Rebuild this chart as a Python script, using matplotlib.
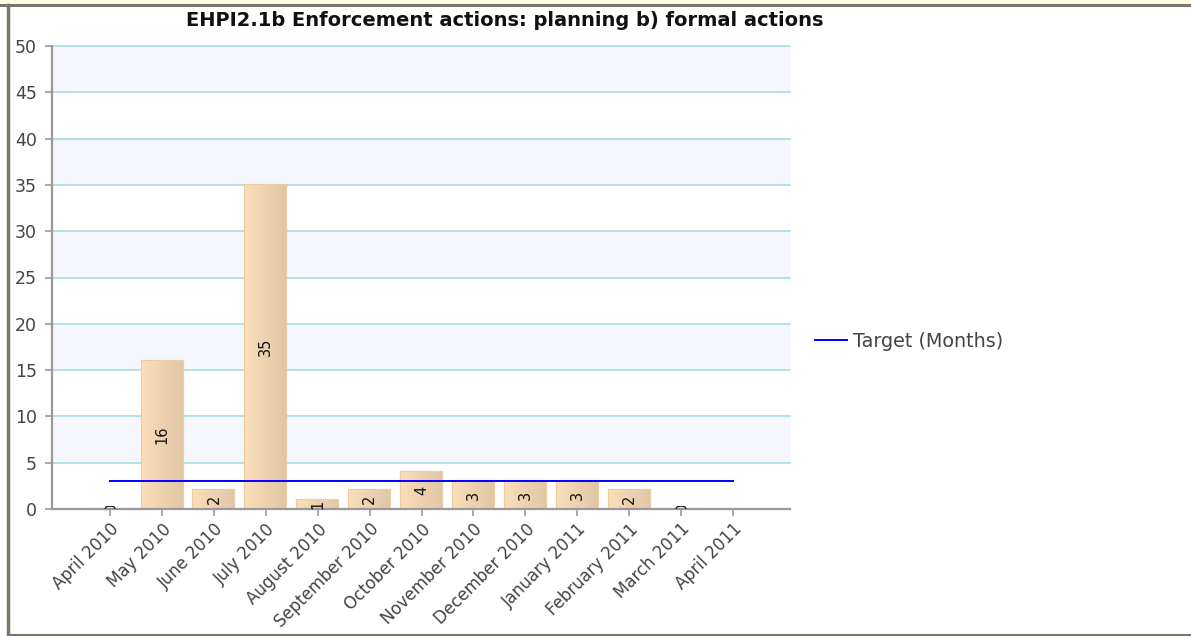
import numpy as np
import matplotlib
matplotlib.use("Agg")
import matplotlib.pyplot as plt
from matplotlib.colors import LinearSegmentedColormap
from matplotlib.patches import Rectangle, PathPatch
from matplotlib.lines import Line2D
from matplotlib.textpath import TextPath
from matplotlib.transforms import Affine2D, ScaledTranslation, Bbox, TransformedBbox

# data
months = ["April 2010", "May 2010", "June 2010", "July 2010", "August 2010",
          "September 2010", "October 2010", "November 2010", "December 2010",
          "January 2011", "February 2011", "March 2011", "April 2011"]
actions = [0, 16, 2, 35, 1, 2, 4, 3, 3, 3, 2, 0, None]
target = [3] * len(months)

title = "EHPI2.1b Enforcement actions: planning b) formal actions"
legend_label = "Target (Months)"

W, H = 1191, 636
fig = plt.figure(figsize=(W / 100, H / 100), dpi=100)
ax = fig.add_axes([52 / W, 1 - 509 / H, (790 - 52) / W, (509 - 46) / H])

x = np.arange(len(months))

# alternating bands + grid
for lo in range(5, 50, 10):
    ax.axhspan(lo, lo + 5, color="#F6F7FD", zorder=0, lw=0)
for g in range(5, 51, 5):
    ax.axhline(g, color="#A9DCE3", lw=1.2, zorder=1, clip_on=False)

ax.set_xlim(-1.12, len(months) - 1 + 1.1)
ax.set_ylim(0, 50)

grad = LinearSegmentedColormap.from_list("tan", ["#FBDEB9", "#E1C6A6"])
gimg = np.linspace(0, 1, 64).reshape(1, -1)
bw = 0.79
for xi, v in zip(x, actions):
    if v is None:
        continue
    bar = ax.bar(xi, v, width=bw, color="#F4D6B0", edgecolor="#EACCA6",
                 linewidth=1.6, zorder=2)[0]
    im = ax.imshow(gimg, cmap=grad, aspect="auto", zorder=2.1,
                   extent=[xi - bw / 2, xi + bw / 2, 0, v], interpolation="bilinear")
    im.set_clip_path(bar)
    if v >= 1:
        ax.text(xi, v / 2, str(v), rotation=90, ha="center", va="center",
                fontsize=10.5, color="#111111", zorder=4)
    else:
        # zero bars: only a sliver of the label pokes above the axis
        tp = TextPath((0, 0), str(v), size=14.5)
        bb = tp.get_extents()
        tr = (Affine2D().translate(-bb.x0 - bb.width / 2, -bb.y0 - bb.height / 2)
              .rotate_deg(90) + ScaledTranslation(xi, 0, ax.transData))
        pp = PathPatch(tp, transform=tr, facecolor="#111111", lw=0, zorder=4)
        ax.add_artist(pp)
        pp.set_clip_box(TransformedBbox(
            Bbox.from_extents(xi - bw / 2, 0.05, xi + bw / 2, 0.3), ax.transData))

ax.set_xlim(-1.12, len(months) - 1 + 1.1)
ax.set_ylim(0, 50)

ax.plot(x, target, color="#0000FF", lw=1.4, zorder=5, label=legend_label)

ax.set_xticks(x)
ax.set_xticklabels(months, rotation=45, ha="right", rotation_mode="anchor",
                   fontsize=12)
ax.set_yticks(range(0, 51, 5))
ax.tick_params(axis="y", labelsize=12.5, colors="#999999", labelcolor="#444444",
               length=5, width=1.2, pad=6)
ax.tick_params(axis="x", colors="#999999", labelcolor="#444444",
               length=5, width=1.2, pad=3)
for s in ["top", "right"]:
    ax.spines[s].set_visible(False)
for s in ["left", "bottom"]:
    ax.spines[s].set_color("#999999")
    ax.spines[s].set_linewidth(1.6)
ax.patch.set_facecolor("white")

fig.text(505 / W, 1 - 21 / H, title, ha="center", va="center",
         fontsize=14, fontweight="bold", color="#111111")

leg = fig.legend(loc="center left", bbox_to_anchor=(807 / W, 1 - 341 / H),
                 frameon=False, fontsize=13.8, handlelength=1.7,
                 handletextpad=0.3, borderaxespad=0)
for txt in leg.get_texts():
    txt.set_color("#444444")

# page frame around the chart
fig.patches.append(Rectangle((0, 1 - 4 / H), 1, 4 / H, transform=fig.transFigure,
                             color="#FFFDE3", zorder=0))
fig.lines.append(Line2D([0, 1], [1 - 4.5 / H] * 2, transform=fig.transFigure,
                        color="#77776C", lw=2.2))
fig.lines.append(Line2D([8 / W] * 2, [0, 1 - 4.5 / H], transform=fig.transFigure,
                        color="#77776C", lw=2.5))
fig.lines.append(Line2D([8 / W, 1], [1.5 / H] * 2, transform=fig.transFigure,
                        color="#77776C", lw=2.2))

fig.savefig("out.png", dpi=100)
